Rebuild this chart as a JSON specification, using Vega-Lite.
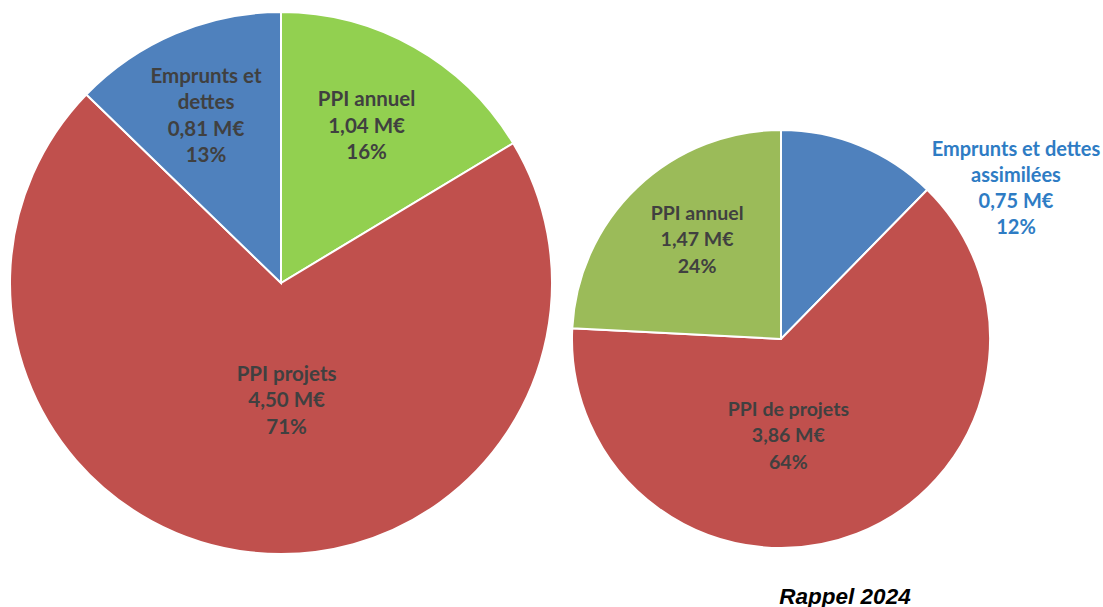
{
  "$schema": "https://vega.github.io/schema/vega-lite/v6.json",
  "padding": 0,
  "background": "white",
  "spacing": 0,
  "config": {"view": {"stroke": null}, "font": "Lato"},
  "resolve": {"scale": {"color": "independent", "theta": "independent"}},
  "datasets": {
    "annee2025": [
      {"poste": "PPI annuel", "montant": 1.04, "rang": 1, "etiquette": "PPI annuel\n1,04 M€\n16%"},
      {"poste": "PPI projets", "montant": 4.50, "rang": 2, "etiquette": "PPI projets\n4,50 M€\n71%"},
      {"poste": "Emprunts et dettes", "montant": 0.81, "rang": 3, "etiquette": "Emprunts et\ndettes\n0,81 M€\n13%"}
    ],
    "annee2024": [
      {"poste": "Emprunts et dettes assimilées", "montant": 0.75, "rang": 1, "etiquette": "Emprunts et dettes\nassimilées\n0,75 M€\n12%"},
      {"poste": "PPI de projets", "montant": 3.86, "rang": 2, "etiquette": "PPI de projets\n3,86 M€\n64%"},
      {"poste": "PPI annuel", "montant": 1.47, "rang": 3, "etiquette": "PPI annuel\n1,47 M€\n24%"}
    ]
  },
  "hconcat": [
    {
      "width": 562,
      "height": 566,
      "data": {"name": "annee2025"},
      "encoding": {
        "theta": {"field": "montant", "type": "quantitative", "stack": true},
        "order": {"field": "rang", "type": "quantitative"},
        "detail": {"field": "poste", "type": "nominal"},
        "color": {
          "field": "poste", "type": "nominal", "legend": null,
          "scale": {"domain": ["PPI annuel", "PPI projets", "Emprunts et dettes"], "range": ["#92d050", "#c0504d", "#4f81bd"]}
        }
      },
      "layer": [
        {"mark": {"type": "arc", "outerRadius": 271, "stroke": "white", "strokeWidth": 2}},
        {
          "mark": {"type": "text", "radius": 180, "dx": -3, "dy": -26, "font": "Lato", "fontWeight": "bold", "fontSize": 20.5, "lineBreak": "\n", "lineHeight": 26.5, "align": "center", "baseline": "middle"},
          "encoding": {"color": {"value": "#404040"}, "text": {"condition": {"test": "datum.rang != 1", "value": ""}, "field": "etiquette", "type": "nominal"}}
        },
        {
          "mark": {"type": "text", "radius": 118, "dx": 19, "dy": -25.5, "font": "Lato", "fontWeight": "bold", "fontSize": 20.5, "lineBreak": "\n", "lineHeight": 26.5, "align": "center", "baseline": "middle"},
          "encoding": {"color": {"value": "#404040"}, "text": {"condition": {"test": "datum.rang != 2", "value": ""}, "field": "etiquette", "type": "nominal"}}
        },
        {
          "mark": {"type": "text", "radius": 182, "dx": -4, "dy": -38.5, "font": "Lato", "fontWeight": "bold", "fontSize": 20.5, "lineBreak": "\n", "lineHeight": 26.5, "align": "center", "baseline": "middle"},
          "encoding": {"color": {"value": "#404040"}, "text": {"condition": {"test": "datum.rang != 3", "value": ""}, "field": "etiquette", "type": "nominal"}}
        }
      ]
    },
    {
      "spacing": 0,
      "vconcat": [
        {
          "width": 438,
          "height": 126,
          "data": {"values": [{}]},
          "mark": {"type": "text"},
          "encoding": {"text": {"value": ""}}
        },
        {
          "width": 438,
          "height": 420,
          "title": {"text": "Rappel 2024", "orient": "bottom", "anchor": "middle", "frame": "group", "dx": 64, "offset": 34, "font": "Liberation Sans", "fontSize": 22.5, "fontWeight": "bold", "fontStyle": "italic", "color": "#000000"},
          "data": {"name": "annee2024"},
          "encoding": {
            "theta": {"field": "montant", "type": "quantitative", "stack": true},
            "order": {"field": "rang", "type": "quantitative"},
            "detail": {"field": "poste", "type": "nominal"},
            "color": {
              "field": "poste", "type": "nominal", "legend": null,
              "scale": {"domain": ["Emprunts et dettes assimilées", "PPI de projets", "PPI annuel"], "range": ["#4f81bd", "#c0504d", "#9bbb59"]}
            }
          },
          "layer": [
            {"mark": {"type": "arc", "outerRadius": 209, "stroke": "white", "strokeWidth": 2}},
            {
              "mark": {"type": "text", "radius": 209, "dx": 156, "dy": 5, "font": "Lato", "fontWeight": "bold", "fontSize": 20, "lineBreak": "\n", "lineHeight": 26, "align": "center", "baseline": "middle"},
              "encoding": {"color": {"value": "#2e7cc4"}, "text": {"condition": {"test": "datum.rang != 1", "value": ""}, "field": "etiquette", "type": "nominal"}}
            },
            {
              "mark": {"type": "text", "radius": 100, "dx": -29, "dy": -22.5, "font": "Lato", "fontWeight": "bold", "fontSize": 19.5, "lineBreak": "\n", "lineHeight": 26.5, "align": "center", "baseline": "middle"},
              "encoding": {"color": {"value": "#404040"}, "text": {"condition": {"test": "datum.rang != 2", "value": ""}, "field": "etiquette", "type": "nominal"}}
            },
            {
              "mark": {"type": "text", "radius": 132, "dx": 7, "dy": -29.5, "font": "Lato", "fontWeight": "bold", "fontSize": 19.5, "lineBreak": "\n", "lineHeight": 26.5, "align": "center", "baseline": "middle"},
              "encoding": {"color": {"value": "#404040"}, "text": {"condition": {"test": "datum.rang != 3", "value": ""}, "field": "etiquette", "type": "nominal"}}
            }
          ]
        }
      ]
    }
  ]
}
